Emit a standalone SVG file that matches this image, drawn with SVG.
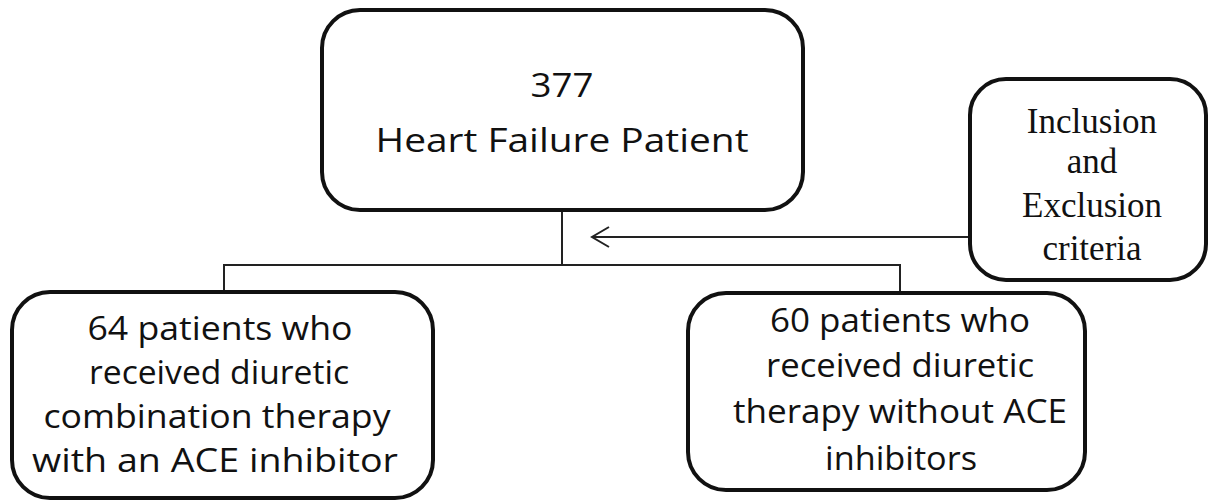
<svg xmlns="http://www.w3.org/2000/svg" width="1209" height="501" viewBox="0 0 1209 501">
<defs>
<style>
.box{fill:#fff;stroke:#111;stroke-width:4}
.c{fill:none;stroke:#222;stroke-width:2}
.s{font-family:"Open Sans","Liberation Sans",sans-serif;font-size:32px;fill:#111;text-anchor:middle}
.t{font-family:"Liberation Serif","Times New Roman",serif;font-size:35px;fill:#111;text-anchor:middle}
</style>
<marker id="arr" markerWidth="20" markerHeight="22" refX="18" refY="11" orient="auto" markerUnits="userSpaceOnUse">
<path d="M1,1 L18,11 L1,21" fill="none" stroke="#222" stroke-width="2"/>
</marker>
</defs>
<rect width="1209" height="501" fill="#fff"/>
<g id="connectors">
<path class="c" d="M562,210 V265"/>
<path class="c" d="M224,292 V265 H900 V293"/>
<path class="c" d="M971,237 H592" marker-end="url(#arr)"/>
</g>
<g id="node-top">
<rect class="box" x="322" y="10" width="481" height="200" rx="38"/>
<text class="s" x="562" y="97" textLength="63" lengthAdjust="spacingAndGlyphs">377</text>
<text class="s" x="562" y="152" textLength="373" lengthAdjust="spacingAndGlyphs">Heart Failure Patient</text>
</g>
<g id="node-criteria">
<rect class="box" x="970" y="79" width="236" height="201" rx="36"/>
<text class="t" x="1092" y="133">Inclusion</text>
<text class="t" x="1092" y="173">and</text>
<text class="t" x="1092" y="217">Exclusion</text>
<text class="t" x="1092" y="260">criteria</text>
</g>
<g id="node-left">
<rect class="box" x="12" y="292" width="421" height="206" rx="38"/>
<text class="s" x="220" y="340" textLength="265" lengthAdjust="spacingAndGlyphs">64 patients who</text>
<text class="s" x="219" y="384" textLength="260" lengthAdjust="spacingAndGlyphs">received diuretic</text>
<text class="s" x="217" y="428" textLength="347" lengthAdjust="spacingAndGlyphs">combination therapy</text>
<text class="s" x="215" y="472" textLength="366" lengthAdjust="spacingAndGlyphs">with an ACE inhibitor</text>
</g>
<g id="node-right">
<rect class="box" x="688" y="293" width="397" height="197" rx="38"/>
<text class="s" x="900" y="332" textLength="260" lengthAdjust="spacingAndGlyphs">60 patients who</text>
<text class="s" x="900" y="377" textLength="268" lengthAdjust="spacingAndGlyphs">received diuretic</text>
<text class="s" x="900" y="423" textLength="334" lengthAdjust="spacingAndGlyphs">therapy without ACE</text>
<text class="s" x="901" y="470" textLength="152" lengthAdjust="spacingAndGlyphs">inhibitors</text>
</g>
</svg>
